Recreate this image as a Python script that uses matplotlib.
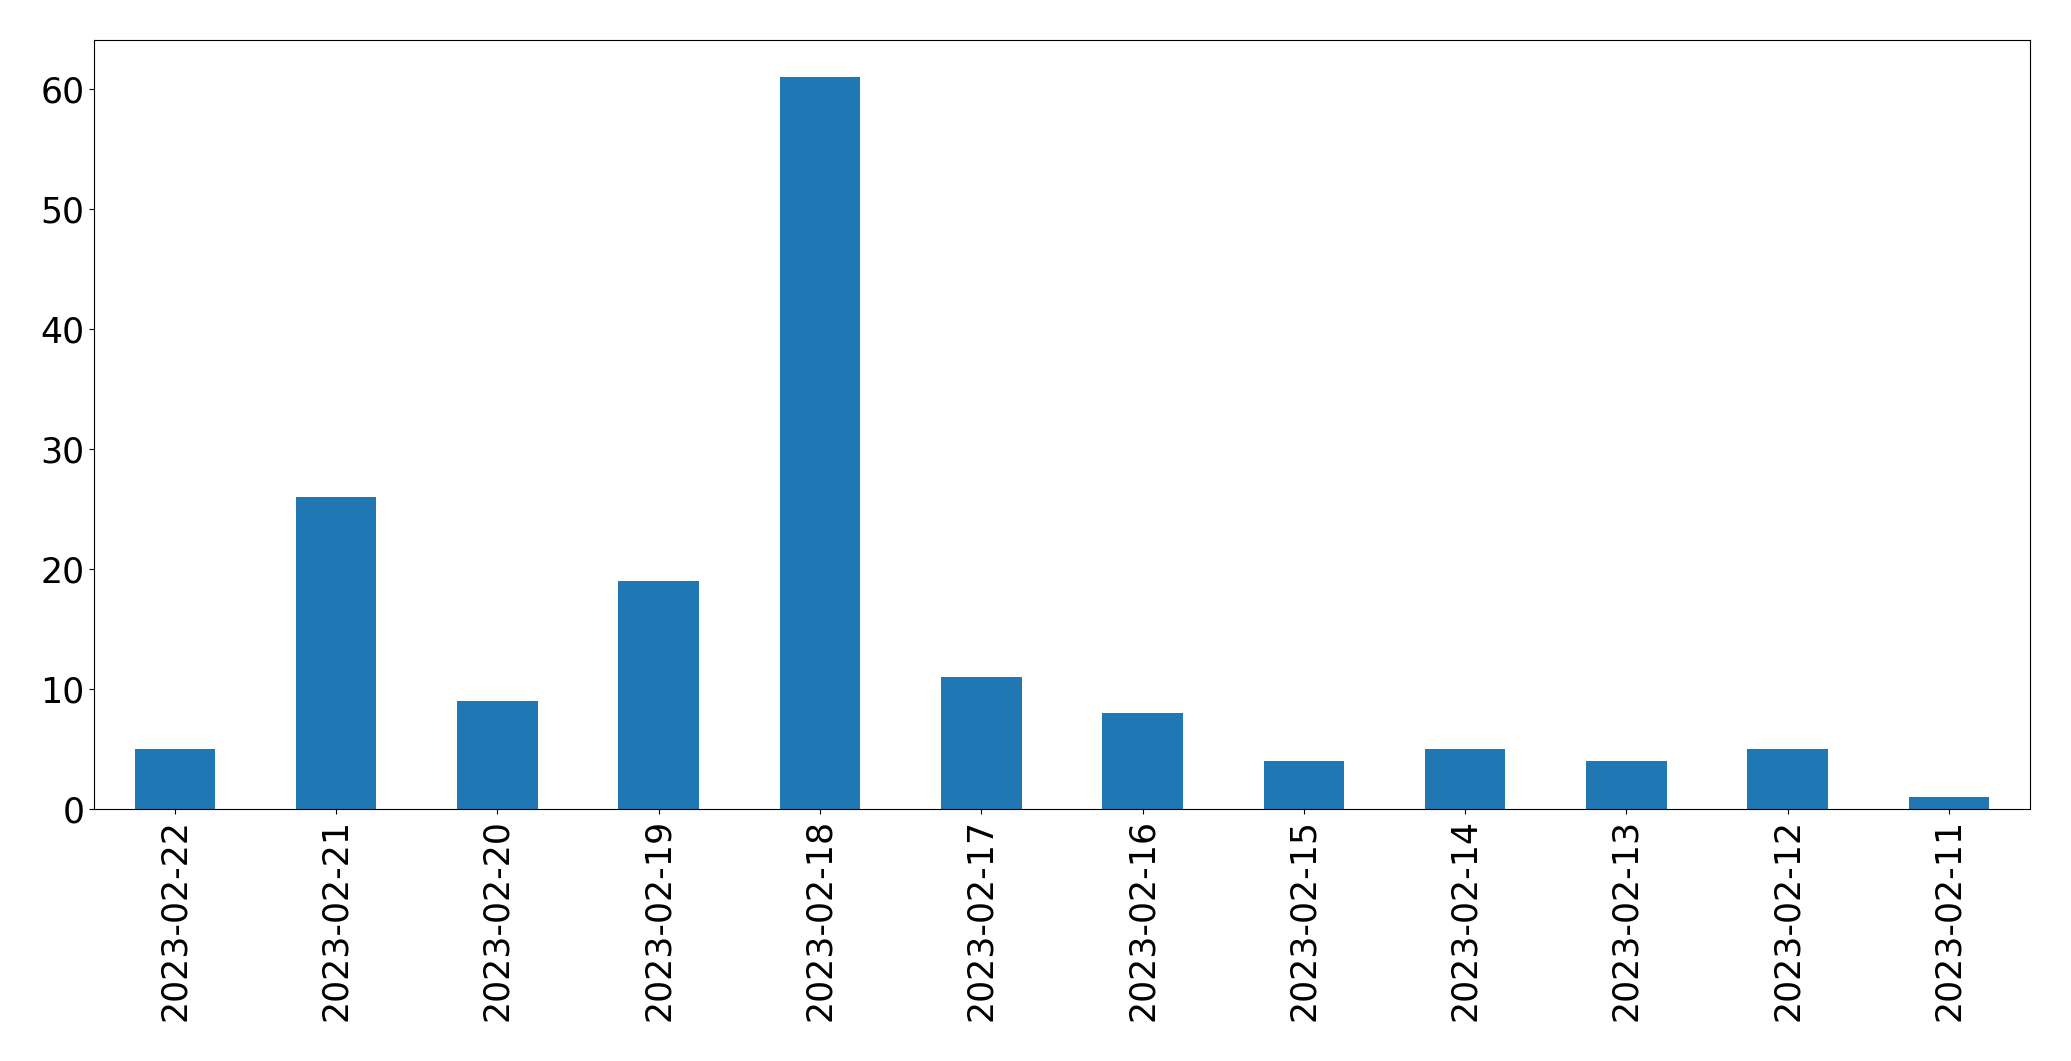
import pandas as pd
import matplotlib
matplotlib.use("Agg")
import matplotlib.pyplot as plt

# daily counts, newest first (as in the original plot)
dates = ["2023-02-22", "2023-02-21", "2023-02-20", "2023-02-19", "2023-02-18", "2023-02-17",
         "2023-02-16", "2023-02-15", "2023-02-14", "2023-02-13", "2023-02-12", "2023-02-11"]
counts = [5, 26, 9, 19, 61, 11, 8, 4, 5, 4, 5, 1]

s = pd.Series(counts, index=dates)

fig = plt.figure(figsize=(20.71, 10.61), dpi=100)
ax = fig.add_axes([0.0455, 0.2375, 0.9345, 0.7245])
s.plot(kind="bar", ax=ax, color="#1f77b4")

ax.tick_params(axis="both", labelsize=25)
ax.set_yticks([0, 10, 20, 30, 40, 50, 60])

fig.savefig("out.png", dpi=100)
